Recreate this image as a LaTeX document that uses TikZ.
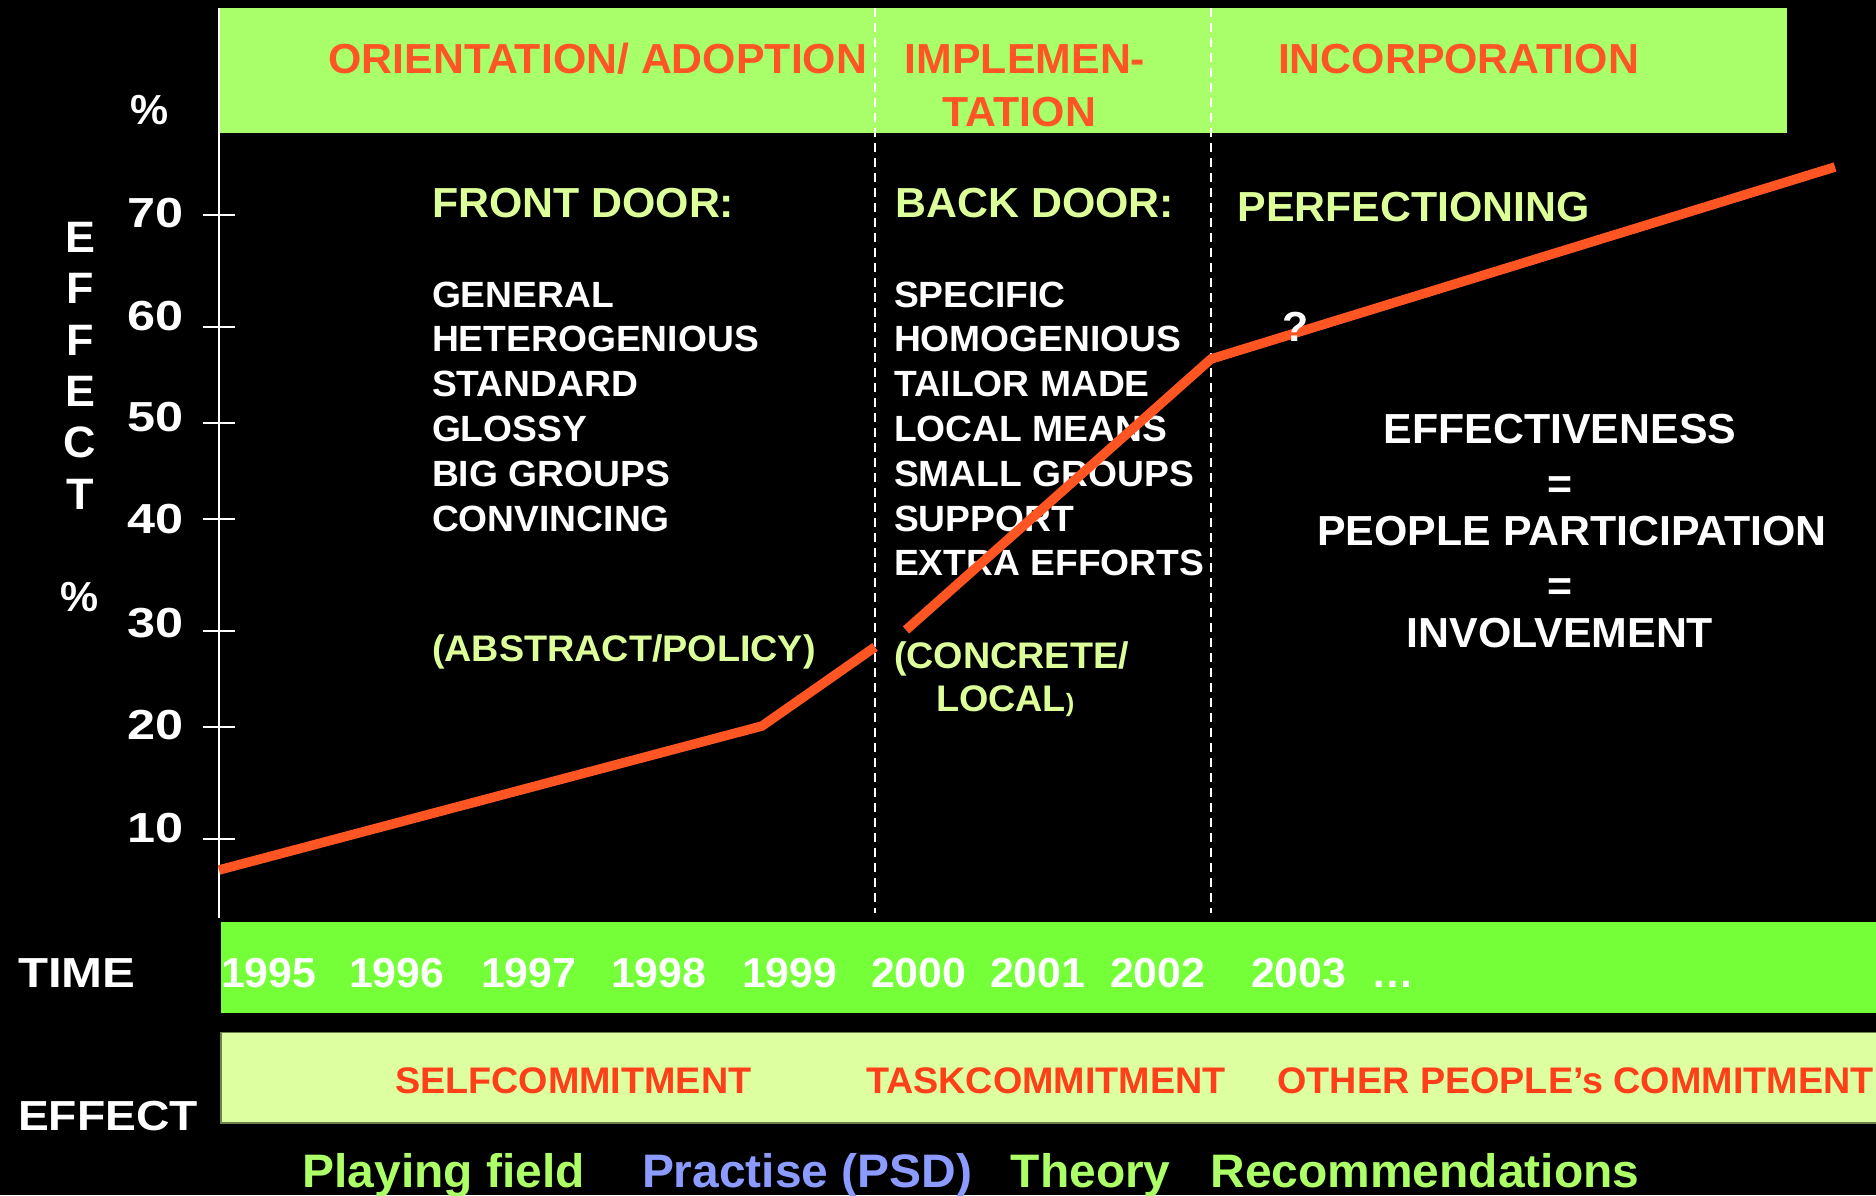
\documentclass[tikz,border=0pt]{standalone}
\usepackage{fontspec}
\setmainfont{Liberation Sans}[FakeStretch=1.02]
\newfontfamily\widesans{Liberation Sans}[FakeStretch=1.2]
\newfontfamily\midsans{Liberation Sans}[FakeStretch=1.17]
\newfontfamily\effsans{Liberation Sans}[FakeStretch=1.1]
\newcommand\fsz[1]{\fontsize{#1}{#1}\selectfont}
\definecolor{hdrred}{RGB}{255,85,37}
\definecolor{comred}{RGB}{255,62,26}
\definecolor{linered}{RGB}{255,85,34}
\definecolor{topgreen}{RGB}{168,255,106}
\definecolor{timegreen}{RGB}{117,255,56}
\definecolor{effyellow}{RGB}{221,255,160}
\definecolor{effborder}{RGB}{110,130,80}
\definecolor{paletext}{RGB}{221,255,153}
\definecolor{fieldgreen}{RGB}{172,255,102}
\definecolor{psdblue}{RGB}{140,155,255}
\begin{document}
\begin{tikzpicture}[x=1pt,y=-1pt,
  lbl/.style={inner sep=0pt,outer sep=0pt,anchor=base west},
  hdr/.style={lbl,text=hdrred,font=\fsz{42}\bfseries},
  head/.style={lbl,text=paletext,font=\fsz{42}\bfseries},
  item/.style={lbl,text=white,font=\fsz{36.5}\bfseries},
  paren/.style={lbl,text=paletext,font=\fsz{37}\bfseries},
  eqtxt/.style={inner sep=0pt,outer sep=0pt,anchor=base,text=white,font=\fsz{42}\bfseries},
  axnum/.style={inner sep=0pt,outer sep=0pt,anchor=base east,text=white,font=\widesans\fsz{42}\bfseries},
  vlet/.style={inner sep=0pt,outer sep=0pt,anchor=base,text=white,font=\fsz{44}\bfseries},
  yr/.style={lbl,text=white,font=\fsz{42}\bfseries},
  side/.style={lbl,text=white,font=\midsans\fsz{42}\bfseries},
  com/.style={lbl,text=comred,font=\fsz{37}\bfseries},
  foot/.style={lbl,font=\fsz{47}\bfseries},
  whiteline/.style={draw=white,line width=2.2pt},
  divider/.style={draw=white,line width=2pt,dash pattern=on 9pt off 6pt},
  curve/.style={draw=linered,line width=9.5pt,line join=miter,line cap=butt}]
\useasboundingbox (0,0) rectangle (1876,1195);
\fill[black] (0,0) rectangle (1876,1195);

% bands
\fill[topgreen] (219,8) rectangle (1787,133);
\fill[timegreen] (221,921.7) rectangle (1876,1012.7);
\filldraw[fill=effyellow,draw=effborder,line width=1.5pt] (221,1032.7) rectangle (1877,1123);

% axis and ticks
\draw[whiteline] (219,8) -- (219,918);
\foreach \ty in {215,327,423,519,631,727,839}
  \draw[whiteline,line width=2pt] (203,\ty) -- (235,\ty);
% phase dividers
\draw[divider] (875,8) -- (875,913);
\draw[divider] (1211,8) -- (1211,913);

% axis labels
\node[eqtxt,font=\fsz{42}\bfseries] (pcttop) at (150,124) {\%};
\foreach \v/\y in {70/227,60/330,50/431,40/533,30/637,20/739,10/842}
  \node[axnum] (ax\v) at (184,\y) {\v};
\foreach \l/\y [count=\i] in {E/252,F/303,F/355,E/406,C/457,T/509}
  \node[vlet] (ev\i) at (80,\y) {\l};
\node[vlet,font=\fsz{42}\bfseries] (evpct) at (80,611) {\%};

% header
\node[hdr] (orient) at (328.5,73.5) {ORIENTATION/ ADOPTION};
\node[hdr,anchor=base] (impl1) at (1025,73.5) {IMPLEMEN-};
\node[hdr,anchor=base] (impl2) at (1019.5,126) {TATION};
\node[hdr] (incorp) at (1278,73.5) {INCORPORATION};

% column heads
\node[head] (front) at (432,217) {FRONT DOOR:};
\node[head] (back) at (895.5,217) {BACK DOOR:};
\node[head] (perfect) at (1237.5,221) {PERFECTIONING};

% lists
\foreach \t [count=\i] in {GENERAL,HETEROGENIOUS,STANDARD,GLOSSY,BIG GROUPS,CONVINCING}
  \node[item] (fd\i) at (432,{307+(\i-1)*44.8}) {\t};
\foreach \t [count=\i] in {SPECIFIC,HOMOGENIOUS,TAILOR MADE,LOCAL MEANS,SMALL GROUPS,SUPPORT,EXTRA EFFORTS}
  \node[item] (bd\i) at (894,{307+(\i-1)*44.8}) {\t};

\node[paren] (abstract) at (432,661) {(ABSTRACT/POLICY)};
\node[paren] (concrete1) at (894,668) {(CONCRETE/};
\node[paren] (concrete2) at (936,711) {LOCAL{\fsz{25}\bfseries)}};

% equation block
\node[eqtxt] (effv) at (1560,443) {EFFECTIVENESS};
\node[eqtxt] (eq1) at (1560,498) {=};
\node[eqtxt] (people) at (1572,545) {PEOPLE PARTICIPATION};
\node[eqtxt] (eq2) at (1560,600) {=};
\node[eqtxt] (invol) at (1560,647) {INVOLVEMENT};

% effect curve
\coordinate (c1) at (219,870);
\coordinate (c2) at (762,726);
\coordinate (c3) at (875,647);
\coordinate (c4) at (906,630);
\coordinate (c5) at (1211,359);
\coordinate (c6) at (1835,167);
\draw[curve] (c1) -- (c2) -- (c3);
\draw[curve] (c4) -- (c5) -- (c6);
\node[eqtxt] (qmark) at (1296,341) {?};

% time row
\node[side] (time) at (18,987) {TIME};
\foreach \yv/\x in {1995/221,1996/349,1997/481,1998/611,1999/742,2000/871,2001/990,2002/1110,2003/1251}
  \node[yr] (y\yv) at (\x,987) {\yv};
\node[yr] (ydots) at (1371,987) {…};

% effect row
\node[side,font=\effsans\fsz{42}\bfseries] (effect) at (18,1130) {EFFECT};
\node[com] (self) at (395,1093) {SELFCOMMITMENT};
\node[com] (task) at (866,1093) {TASKCOMMITMENT};
\node[com] (other) at (1277.5,1093) {OTHER PEOPLE’s COMMITMENT};

% footer
\node[foot,text=fieldgreen] (field) at (302.6,1187) {Playing field};
\node[foot,text=psdblue] (psd) at (642,1187) {Practise (PSD)};
\node[foot,text=fieldgreen] (theory) at (1010.8,1187) {Theory};
\node[foot,text=fieldgreen] (recom) at (1210.5,1187) {Recommendations};
\end{tikzpicture}
\end{document}
